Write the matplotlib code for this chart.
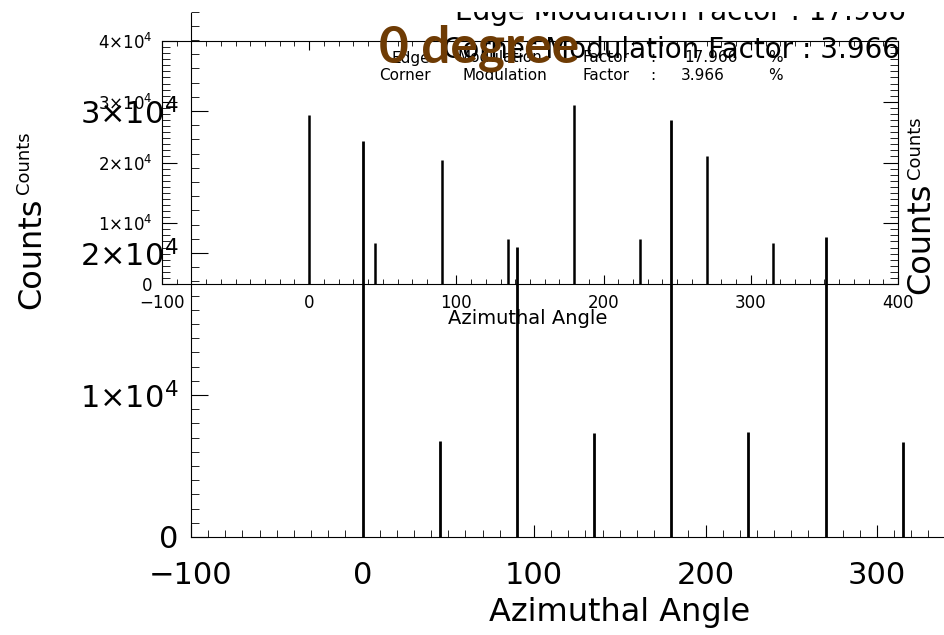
import matplotlib
matplotlib.use("Agg")
import matplotlib.pyplot as plt
from matplotlib.ticker import MultipleLocator, FuncFormatter
from matplotlib.transforms import Bbox

# spectre azimutal (meme histogramme trace deux fois)
angles = [0, 45, 90, 135, 180, 225, 270, 315]
counts = [27900, 6750, 20450, 7350, 29400, 7400, 21150, 6700]

titre = "0 degree"
edge_mf = "17.966"
corner_mf = "3.966"
xlabel = "Azimuthal Angle"
ylabel = "Counts"

W, H = 945, 635


def fx(x):
    return x / W


def fy(y):
    return 1 - y / H


def fmt(v, pos):
    if v == 0:
        return "0"
    return r"$%d{\times}10^{4}$" % round(v / 1e4)


fig = plt.figure(figsize=(W / 100, H / 100), dpi=100)

# grand trace (depasse de la figure a droite et en haut)
ax = fig.add_axes([fx(191), fy(537), 857.5 / W, 568 / H])
ax.set_facecolor("none")
ax.vlines(angles, 0, counts, colors="black", lw=2)
ax.set_xlim(-100, 400)
ax.set_ylim(0, 40000)
ax.spines["top"].set_visible(False)
ax.spines["right"].set_visible(False)
ax.spines["left"].set_bounds(0, 36900)
ax.xaxis.set_major_locator(MultipleLocator(100))
ax.xaxis.set_minor_locator(MultipleLocator(10))
ax.yaxis.set_major_locator(MultipleLocator(10000))
ax.yaxis.set_minor_locator(MultipleLocator(1000))
ax.yaxis.set_major_formatter(FuncFormatter(fmt))
ax.tick_params(axis="x", which="major", direction="in", length=8.6, pad=17, labelsize=22)
ax.tick_params(axis="x", which="minor", direction="in", length=5)
ax.tick_params(axis="y", which="major", direction="in", length=12, pad=9, labelsize=22)
ax.tick_params(axis="y", which="minor", direction="in", length=6)

# petit trace
ax2 = fig.add_axes([fx(162), fy(284), 736 / W, 243 / H])
ax2.set_facecolor("none")
ax2.vlines(angles, 0, counts, colors="black", lw=1.8)
ax2.set_xlim(-100, 400)
ax2.set_ylim(0, 40000)
ax2.xaxis.set_major_locator(MultipleLocator(100))
ax2.xaxis.set_minor_locator(MultipleLocator(10))
ax2.yaxis.set_major_locator(MultipleLocator(10000))
ax2.yaxis.set_minor_locator(MultipleLocator(1000))
ax2.yaxis.set_major_formatter(FuncFormatter(fmt))
ax2.tick_params(which="both", direction="in", top=True, right=True)
ax2.tick_params(axis="x", which="major", length=6.5, pad=7, labelsize=12)
ax2.tick_params(axis="x", which="minor", length=3.6)
ax2.tick_params(axis="y", which="major", length=11, pad=7, labelsize=12)
ax2.tick_params(axis="y", which="minor", length=5.5)

# libelles des axes
fig.text(fx(620), fy(613), xlabel, fontsize=23, ha="center", va="center")
fig.text(fx(528), fy(318), xlabel, fontsize=14, ha="center", va="center")
fig.text(fx(32), fy(253), ylabel, fontsize=23, rotation=90, ha="center", va="center")
fig.text(fx(24), fy(163), ylabel, fontsize=13, rotation=90, ha="center", va="center")
fig.text(fx(921), fy(238), ylabel, fontsize=23, rotation=90, ha="center", va="center")
fig.text(fx(915), fy(148), ylabel, fontsize=13, rotation=90, ha="center", va="center")

# facteurs de modulation, grand format (le haut de l'image est coupe vers y=12)
t = fig.text(fx(680), fy(20), "Edge Modulation Factor : " + edge_mf,
             fontsize=20, ha="center", va="baseline")
t.set_clip_box(Bbox.from_extents(0, 0, W, H - 12))
t.set_clip_on(True)
fig.text(fx(671), fy(58), "Corner Modulation Factor : " + corner_mf,
         fontsize=20, ha="center", va="baseline")

# facteurs de modulation, petit format (mot par mot, police Hershey tres large)
mots_edge = [("Edge", 411), ("Modulation", 500), ("Factor", 606), (":", 653),
             (edge_mf, 711), ("%", 775)]
mots_corner = [("Corner", 405), ("Modulation", 505), ("Factor", 606), (":", 653),
               (corner_mf, 703), ("%", 775)]
for mot, x in mots_edge:
    fig.text(fx(x), fy(58), mot, fontsize=11, ha="center", va="center")
for mot, x in mots_corner:
    fig.text(fx(x), fy(75), mot, fontsize=11, ha="center", va="center")

fig.text(fx(479), fy(63), titre, fontsize=37, fontweight="bold", color="#6e3b04",
         family=["Lato", "DejaVu Sans"], ha="center", va="baseline")

fig.savefig("out.png", dpi=100)
